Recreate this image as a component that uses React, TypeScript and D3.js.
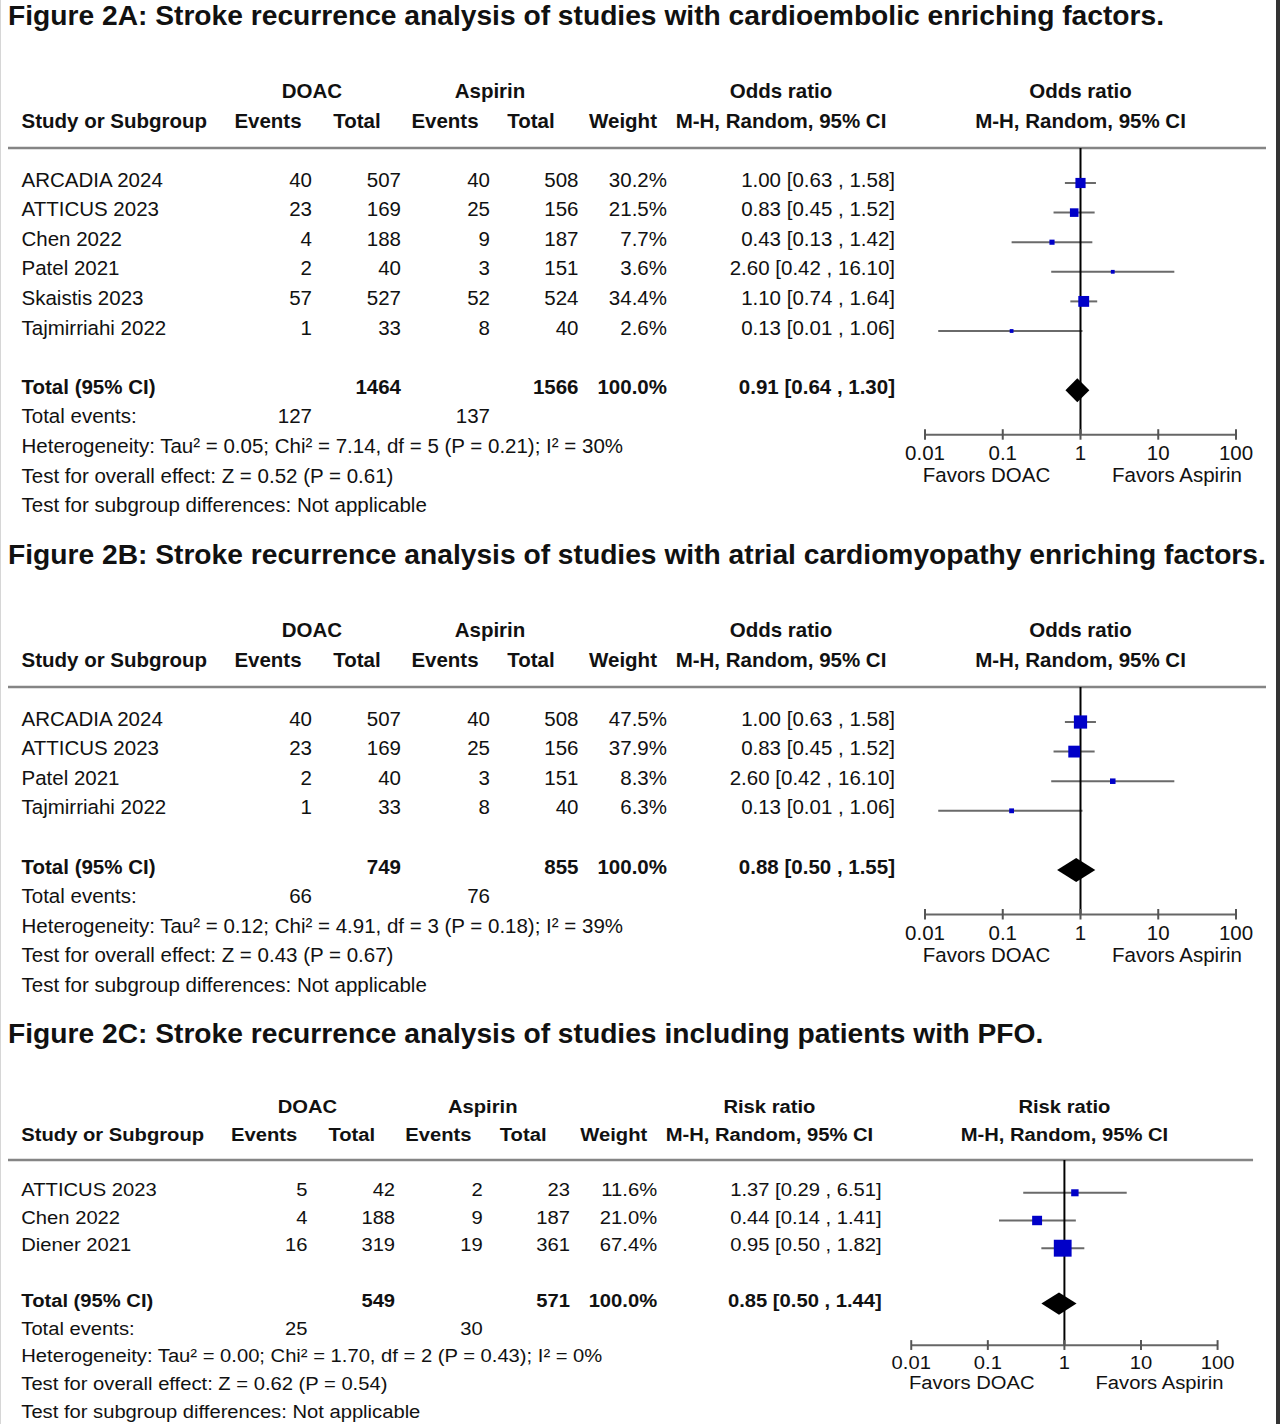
import React from "react";
import * as d3 from "d3";

const FONT = "'Liberation Sans', Arial, Helvetica, sans-serif";

// ---------- Panel A data ----------
const titleA = "Figure 2A: Stroke recurrence analysis of studies with cardioembolic enriching factors.";
const studiesA = ["ARCADIA 2024", "ATTICUS 2023", "Chen 2022", "Patel 2021", "Skaistis 2023", "Tajmirriahi 2022"];
const doacEventsA = [40, 23, 4, 2, 57, 1];
const doacTotalA = [507, 169, 188, 40, 527, 33];
const aspEventsA = [40, 25, 9, 3, 52, 8];
const aspTotalA = [508, 156, 187, 151, 524, 40];
const weightA = [30.2, 21.5, 7.7, 3.6, 34.4, 2.6];
const estA = [1.0, 0.83, 0.43, 2.6, 1.1, 0.13];
const loA = [0.63, 0.45, 0.13, 0.42, 0.74, 0.0148];
const hiA = [1.58, 1.52, 1.42, 16.1, 1.64, 1.06];
const pooledA = [0.91, 0.64, 1.3];
const statsA = [
  "Heterogeneity: Tau\u00b2 = 0.05; Chi\u00b2 = 7.14, df = 5 (P = 0.21); I\u00b2 = 30%",
  "Test for overall effect: Z = 0.52 (P = 0.61)",
  "Test for subgroup differences: Not applicable",
];

// ---------- Panel B data ----------
const titleB = "Figure 2B: Stroke recurrence analysis of studies with atrial cardiomyopathy enriching factors.";
const studiesB = ["ARCADIA 2024", "ATTICUS 2023", "Patel 2021", "Tajmirriahi 2022"];
const doacEventsB = [40, 23, 2, 1];
const doacTotalB = [507, 169, 40, 33];
const aspEventsB = [40, 25, 3, 8];
const aspTotalB = [508, 156, 151, 40];
const weightB = [47.5, 37.9, 8.3, 6.3];
const estB = [1.0, 0.83, 2.6, 0.13];
const loB = [0.63, 0.45, 0.42, 0.0148];
const hiB = [1.58, 1.52, 16.1, 1.06];
const pooledB = [0.88, 0.5, 1.55];
const statsB = [
  "Heterogeneity: Tau\u00b2 = 0.12; Chi\u00b2 = 4.91, df = 3 (P = 0.18); I\u00b2 = 39%",
  "Test for overall effect: Z = 0.43 (P = 0.67)",
  "Test for subgroup differences: Not applicable",
];

// ---------- Panel C data ----------
const titleC = "Figure 2C: Stroke recurrence analysis of studies including patients with PFO.";
const studiesC = ["ATTICUS 2023", "Chen 2022", "Diener 2021"];
const doacEventsC = [5, 4, 16];
const doacTotalC = [42, 188, 319];
const aspEventsC = [2, 9, 19];
const aspTotalC = [23, 187, 361];
const weightC = [11.6, 21.0, 67.4];
const estC = [1.37, 0.44, 0.95];
const loC = [0.29, 0.14, 0.5];
const hiC = [6.51, 1.41, 1.82];
const pooledC = [0.85, 0.5, 1.44];
const statsC = [
  "Heterogeneity: Tau\u00b2 = 0.00; Chi\u00b2 = 1.70, df = 2 (P = 0.43); I\u00b2 = 0%",
  "Test for overall effect: Z = 0.62 (P = 0.54)",
  "Test for subgroup differences: Not applicable",
];

// ---------- shared labels ----------
const groupLabels = ["DOAC", "Aspirin"];
const colHeaders = ["Events", "Total", "Events", "Total", "Weight"];
const methodLabel = "M-H, Random, 95% CI";
const axisTicks = [0.01, 0.1, 1, 10, 100];
const favorLabels = ["Favors DOAC", "Favors Aspirin"];

type PanelData = {
  measure: string;
  studies: string[];
  doacEvents: number[];
  doacTotal: number[];
  aspEvents: number[];
  aspTotal: number[];
  weight: number[];
  est: number[];
  lo: number[];
  hi: number[];
  pooled: number[];
  stats: string[];
  sqK: number;
  lineEnd: number;
};

const panels: { title: string; titleY: number; transform: string; d: PanelData }[] = [
  {
    title: titleA,
    titleY: 25,
    transform: "translate(0,0)",
    d: {
      measure: "Odds ratio", studies: studiesA, doacEvents: doacEventsA, doacTotal: doacTotalA,
      aspEvents: aspEventsA, aspTotal: aspTotalA, weight: weightA, est: estA, lo: loA, hi: hiA,
      pooled: pooledA, stats: statsA, sqK: 1.85, lineEnd: 1266,
    },
  },
  {
    title: titleB,
    titleY: 564,
    transform: "translate(0,539)",
    d: {
      measure: "Odds ratio", studies: studiesB, doacEvents: doacEventsB, doacTotal: doacTotalB,
      aspEvents: aspEventsB, aspTotal: aspTotalB, weight: weightB, est: estB, lo: loB, hi: hiB,
      pooled: pooledB, stats: statsB, sqK: 1.92, lineEnd: 1266,
    },
  },
  {
    title: titleC,
    titleY: 1043,
    transform: "translate(0.12,1021.5) scale(0.985,0.936)",
    d: {
      measure: "Risk ratio", studies: studiesC, doacEvents: doacEventsC, doacTotal: doacTotalC,
      aspEvents: aspEventsC, aspTotal: aspTotalC, weight: weightC, est: estC, lo: loC, hi: hiC,
      pooled: pooledC, stats: statsC, sqK: 2.2, lineEnd: 1272,
    },
  },
];

const FS = 20.5;
const TXT = "#111";

const colX = { label: 21.5, evD: 312, totD: 401, evA: 490, totA: 578.5, wt: 667, ci: 895 };
const hdrX = [268, 357, 445, 531, 623];
const methodX = 781;

const fmtCI = (e: number, l: number, h: number) =>
  `${e.toFixed(2)} [${l.toFixed(2)} , ${h.toFixed(2)}]`;

function Panel({ d }: { d: PanelData }) {
  const x = d3.scaleLog().domain([0.01, 100]).range([925, 1236]);
  const n = d.studies.length;
  const rowY = (i: number) => 186.5 + i * 29.6;
  const totalY = rowY(n + 1);
  const axisY = totalY + 41;
  const sepY = 148;
  const sq = d3.scaleSqrt().domain([0, 100]).range([0, d.sqK * 10]);
  const [pe, pl, ph] = d.pooled;
  const dy = -3.5;
  const diamond = d3.line()([
    [x(pl), totalY + dy],
    [x(pe), totalY + dy - 12],
    [x(ph), totalY + dy],
    [x(pe), totalY + dy + 12],
  ]) + "Z";

  const R = (props: any) => <text textAnchor="end" {...props} />;

  return (
    <g fontFamily={FONT} fontSize={FS} fill={TXT}>
      {/* headers */}
      <g fontWeight="bold">
        <text x={colX.evD} y={97.5} textAnchor="middle">{groupLabels[0]}</text>
        <text x={colX.evA} y={97.5} textAnchor="middle">{groupLabels[1]}</text>
        <text x={methodX} y={97.5} textAnchor="middle">{d.measure}</text>
        <text x={x(1)} y={97.5} textAnchor="middle">{d.measure}</text>
        <text x={colX.label} y={127.5}>Study or Subgroup</text>
        {colHeaders.map((h, i) => (
          <text key={i} x={hdrX[i]} y={127.5} textAnchor="middle">{h}</text>
        ))}
        <text x={methodX} y={127.5} textAnchor="middle">{methodLabel}</text>
        <text x={x(1)} y={127.5} textAnchor="middle">{methodLabel}</text>
      </g>
      <line x1={8} x2={d.lineEnd} y1={sepY} y2={sepY} stroke="#858585" strokeWidth={2.6} />

      {/* study rows */}
      {d.studies.map((s, i) => (
        <g key={s}>
          <text x={colX.label} y={rowY(i)}>{s}</text>
          <R x={colX.evD} y={rowY(i)}>{d.doacEvents[i]}</R>
          <R x={colX.totD} y={rowY(i)}>{d.doacTotal[i]}</R>
          <R x={colX.evA} y={rowY(i)}>{d.aspEvents[i]}</R>
          <R x={colX.totA} y={rowY(i)}>{d.aspTotal[i]}</R>
          <R x={colX.wt} y={rowY(i)}>{d.weight[i].toFixed(1)}%</R>
          <R x={colX.ci} y={rowY(i)}>{fmtCI(d.est[i], d.lo[i], d.hi[i])}</R>
        </g>
      ))}

      {/* totals */}
      <g fontWeight="bold">
        <text x={colX.label} y={totalY}>Total (95% CI)</text>
        <R x={colX.totD} y={totalY}>{d3.sum(d.doacTotal)}</R>
        <R x={colX.totA} y={totalY}>{d3.sum(d.aspTotal)}</R>
        <R x={colX.wt} y={totalY}>{d3.sum(d.weight).toFixed(1)}%</R>
        <R x={colX.ci} y={totalY}>{fmtCI(pe, pl, ph)}</R>
      </g>
      <text x={colX.label} y={totalY + 29.6}>Total events:</text>
      <R x={colX.evD} y={totalY + 29.6}>{d3.sum(d.doacEvents)}</R>
      <R x={colX.evA} y={totalY + 29.6}>{d3.sum(d.aspEvents)}</R>
      {d.stats.map((s, i) => (
        <text key={i} x={colX.label} y={totalY + 29.6 * (i + 2)}>{s}</text>
      ))}

      {/* plot */}
      {d.studies.map((s, i) => (
        <line key={"ci" + i} x1={x(d.lo[i])} x2={x(d.hi[i])} y1={rowY(i) + dy} y2={rowY(i) + dy}
          stroke="#6a6a6a" strokeWidth={2} />
      ))}
      <line x1={x(1)} x2={x(1)} y1={sepY} y2={axisY} stroke="#000" strokeWidth={2} />
      {d.studies.map((s, i) => {
        const side = Math.max(sq(d.weight[i]), 3.8);
        return (
          <rect key={"sq" + i} x={x(d.est[i]) - side / 2} y={rowY(i) + dy - side / 2}
            width={side} height={side} fill="#0000c8" />
        );
      })}
      <path d={diamond} fill="#000" />

      {/* axis */}
      <line x1={x(0.01)} x2={x(100)} y1={axisY} y2={axisY} stroke="#666" strokeWidth={2} />
      {axisTicks.map((t) => (
        <g key={t}>
          <line x1={x(t)} x2={x(t)} y1={axisY - 5.5} y2={axisY + 5} stroke="#555" strokeWidth={2} />
          <text x={x(t)} y={axisY + 25} textAnchor="middle">{String(t)}</text>
        </g>
      ))}
      <text x={x(1) - 94} y={axisY + 47} textAnchor="middle">{favorLabels[0]}</text>
      <text x={x(1) + 96.5} y={axisY + 47} textAnchor="middle">{favorLabels[1]}</text>
    </g>
  );
}

export default function App() {
  return (
    <svg width={1280} height={1424} style={{ position: "absolute", left: 0, top: 0, background: "#fff" }}>
      <rect x={0} y={0} width={1280} height={1424} fill="#fff" />
      <line x1={0.5} x2={0.5} y1={0} y2={1424} stroke="#d6d6d6" strokeWidth={1} />
      <rect x={1276} y={0} width={4} height={1424} fill="#333" />
      {panels.map((p) => (
        <g key={p.title}>
          <text x={8} y={p.titleY} fontFamily={FONT} fontSize={28.2} fontWeight="bold" fill={TXT}>
            {p.title}
          </text>
          <g transform={p.transform}>
            <Panel d={p.d} />
          </g>
        </g>
      ))}
    </svg>
  );
}
